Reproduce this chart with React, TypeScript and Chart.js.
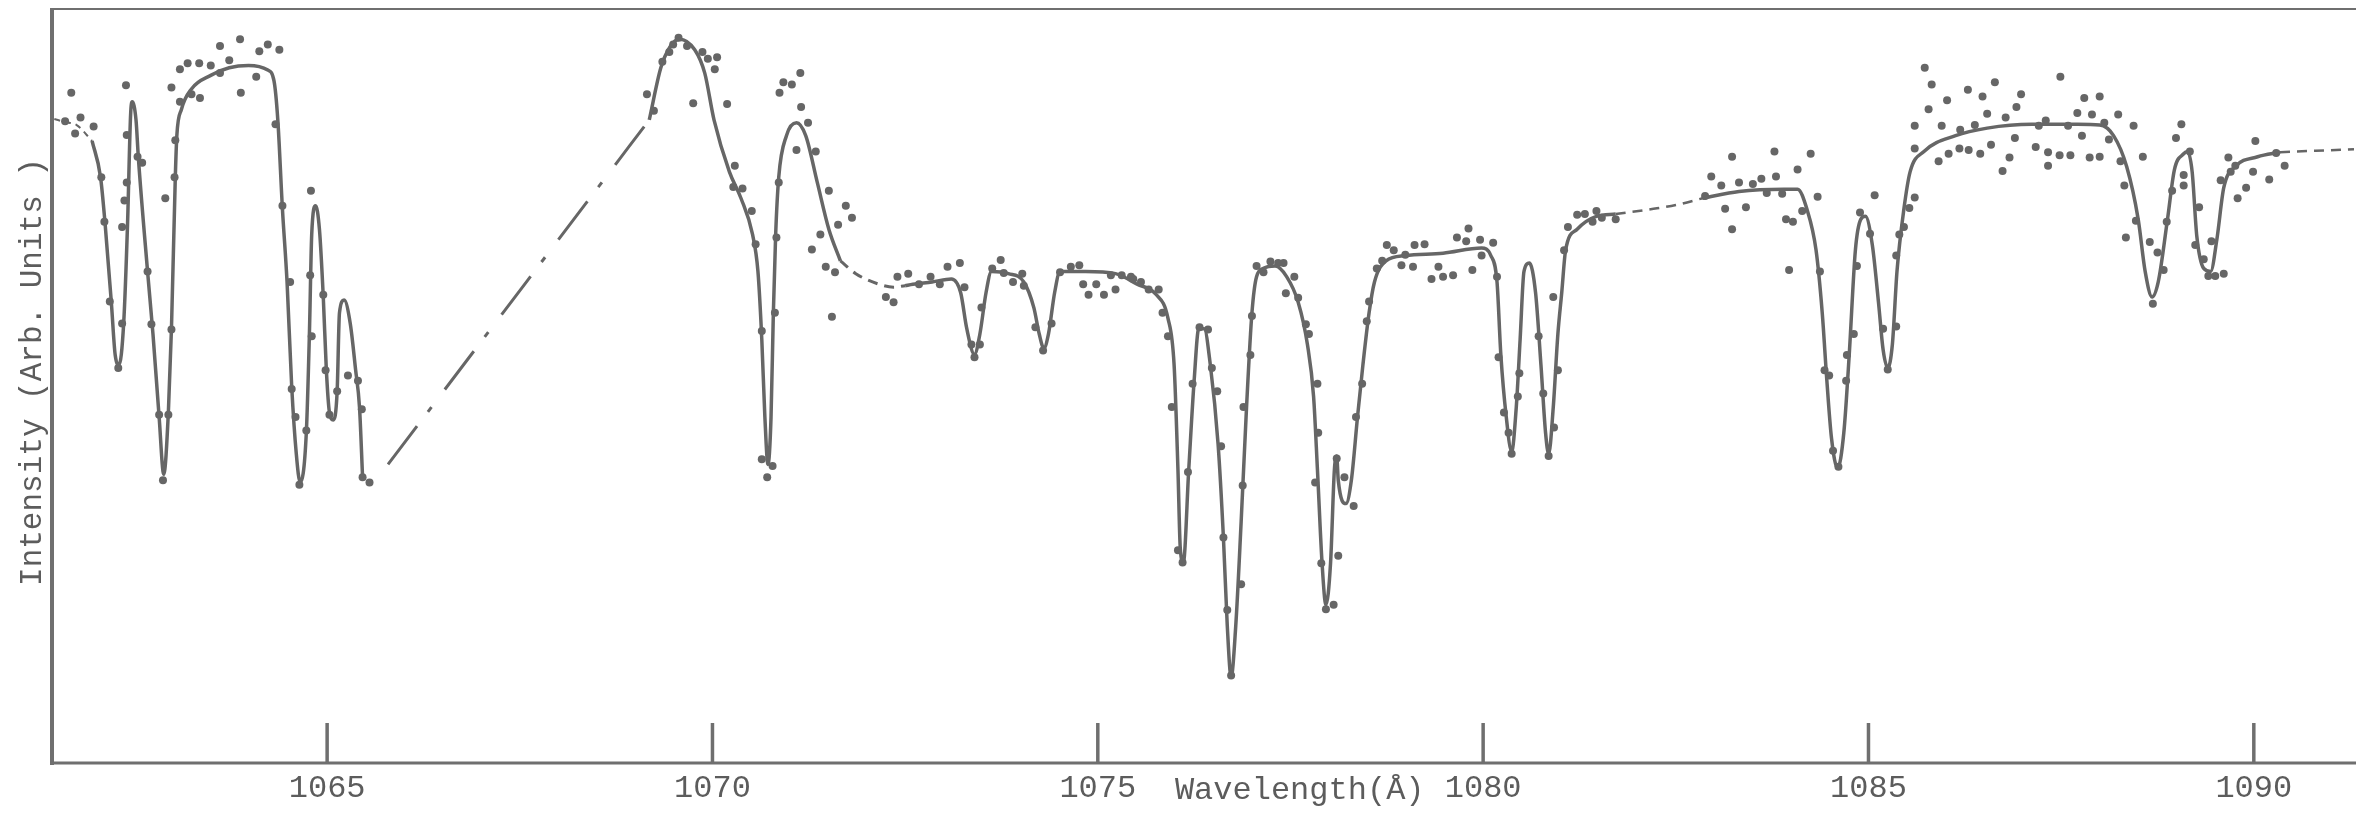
import React, { useEffect, useRef } from 'react';
import { Chart, registerables } from 'chart.js';

Chart.register(...registerables);

// Axis
const X_MIN = 1061.43;
const X_MAX = 1091.3;
const tickWavelengths = [1065, 1070, 1075, 1080, 1085, 1090];
const xTitle = 'Wavelength(Å)';
const yTitle = 'Intensity (Arb. Units )';

// Fitted curve pieces: [wavelength Å, intensity]
const leadDashed: number[][] = [[1061.46, 85.4], [1061.6, 85.0], [1061.75, 84.6], [1061.95, 82.5]];
const fitA: number[][] = [
  [1061.95, 82.5], [1062.06, 77.7], [1062.12, 71.4], [1062.2, 61.1], [1062.25, 54.1], [1062.3, 52.8],
  [1062.36, 58.3], [1062.41, 71.4], [1062.45, 86.0], [1062.47, 87.7], [1062.52, 85.3], [1062.55, 80.4],
  [1062.67, 65.2], [1062.74, 56.9], [1062.82, 45.9], [1062.88, 38.3], [1062.94, 46.5], [1062.98, 57.6],
  [1063.03, 77.7], [1063.05, 83.2], [1063.11, 86.7], [1063.24, 89.4], [1063.49, 91.2], [1063.73, 92.2],
  [1063.98, 92.5], [1064.23, 91.9], [1064.31, 90.5], [1064.36, 85.3], [1064.42, 73.5], [1064.48, 63.8],
  [1064.54, 50.0], [1064.6, 41.0], [1064.65, 37.2], [1064.73, 43.8], [1064.77, 56.9], [1064.8, 70.1],
  [1064.85, 73.9], [1064.9, 70.8], [1064.95, 61.8], [1064.99, 52.1], [1065.03, 46.5], [1065.08, 45.5],
  [1065.13, 49.3], [1065.16, 59.7], [1065.22, 61.4], [1065.3, 58.3], [1065.37, 52.1], [1065.42, 47.2],
  [1065.46, 37.9],
];
const dashDotLink: number[][] = [[1065.79, 39.6], [1069.18, 85.3]];
const fitB: number[][] = [
  [1069.18, 85.3], [1069.33, 92.2], [1069.45, 95.0], [1069.57, 96.0], [1069.77, 94.6], [1069.9, 91.5],
  [1070.02, 85.3], [1070.22, 78.4], [1070.37, 74.9], [1070.52, 70.1], [1070.59, 65.2], [1070.64, 56.2],
  [1070.68, 45.9], [1070.72, 39.6], [1070.76, 45.9], [1070.79, 59.7], [1070.82, 70.1], [1070.86, 77.7],
  [1070.96, 83.2], [1071.09, 84.9], [1071.21, 83.2], [1071.36, 77.0], [1071.51, 70.8], [1071.66, 66.6],
];
const dashB: number[][] = [[1071.66, 66.6], [1071.86, 64.9], [1072.16, 63.5], [1072.35, 63.1], [1072.5, 63.3]];
const fitC: number[][] = [
  [1072.5, 63.3], [1072.6, 63.5], [1072.85, 63.8], [1073.1, 64.2], [1073.22, 62.4], [1073.3, 57.6],
  [1073.4, 54.2], [1073.47, 56.9], [1073.55, 62.4], [1073.62, 65.2], [1073.84, 64.9], [1074.04, 63.8],
  [1074.17, 60.4], [1074.24, 56.9], [1074.3, 55.0], [1074.36, 56.9], [1074.44, 62.4], [1074.51, 65.2],
  [1074.84, 65.2], [1075.23, 64.9], [1075.51, 63.5], [1075.76, 62.1], [1075.91, 59.0], [1075.99, 52.8],
  [1076.04, 38.9], [1076.07, 28.5], [1076.11, 26.6], [1076.18, 38.9], [1076.25, 50.7], [1076.31, 57.6],
  [1076.38, 57.6], [1076.46, 52.8], [1076.56, 42.4], [1076.63, 29.9], [1076.68, 18.2], [1076.73, 11.4],
  [1076.79, 18.2], [1076.86, 32.0], [1076.93, 47.2], [1077.0, 59.7], [1077.06, 64.5], [1077.15, 65.6],
  [1077.3, 65.9], [1077.45, 64.5], [1077.6, 61.1], [1077.72, 55.5], [1077.8, 48.6], [1077.85, 38.9],
  [1077.91, 26.5], [1077.96, 21.0], [1078.02, 26.5], [1078.07, 38.9], [1078.1, 40.7], [1078.12, 37.5],
  [1078.22, 34.4], [1078.29, 37.5], [1078.37, 45.9], [1078.44, 52.8], [1078.52, 59.7], [1078.59, 63.8],
  [1078.74, 66.6], [1078.99, 67.3], [1079.48, 67.6], [1079.98, 68.3], [1080.1, 67.3], [1080.18, 63.8],
  [1080.23, 54.1], [1080.3, 45.9], [1080.37, 41.3], [1080.43, 47.2], [1080.48, 56.2], [1080.53, 65.2],
  [1080.6, 66.3], [1080.68, 62.4], [1080.75, 52.8], [1080.81, 43.8], [1080.85, 41.0], [1080.91, 47.2],
  [1080.97, 56.9], [1081.02, 62.4], [1081.07, 68.0], [1081.22, 70.8], [1081.47, 72.5], [1081.72, 72.8],
];
const dashC: number[][] = [[1081.72, 72.8], [1082.21, 73.5], [1082.5, 74.0], [1082.85, 74.9]];
const fitD: number[][] = [
  [1082.85, 74.9], [1083.32, 75.8], [1083.9, 76.1], [1084.08, 76.1], [1084.2, 73.5], [1084.32, 68.0],
  [1084.4, 59.7], [1084.46, 50.7], [1084.52, 43.1], [1084.6, 39.1], [1084.68, 43.8], [1084.75, 54.1],
  [1084.83, 68.0], [1084.9, 72.1], [1084.96, 72.5], [1085.05, 68.7], [1085.13, 61.1], [1085.19, 54.8],
  [1085.25, 52.4], [1085.31, 55.5], [1085.37, 65.2], [1085.46, 73.5], [1085.54, 78.4], [1085.72, 81.1],
  [1086.13, 83.2], [1086.54, 84.2], [1087.12, 84.7], [1087.71, 84.7], [1088.0, 84.6], [1088.18, 83.2],
  [1088.35, 79.1], [1088.5, 72.1], [1088.59, 65.2], [1088.68, 61.8], [1088.76, 63.8], [1088.88, 72.1],
  [1088.97, 78.7], [1089.09, 80.8], [1089.14, 81.1], [1089.2, 78.4], [1089.26, 69.9], [1089.35, 65.6],
  [1089.44, 65.2], [1089.52, 69.4], [1089.61, 76.3], [1089.76, 79.1], [1090.05, 80.4], [1090.34, 81.0],
];
const dashD: number[][] = [[1090.34, 81.0], [1090.8, 81.2], [1091.3, 81.4]];

// Measured points: [wavelength Å, intensity]
const dotsA: number[][] = [
  [1061.68, 88.9], [1061.73, 83.5], [1061.6, 85.1], [1061.8, 85.6], [1061.97, 84.4], [1062.07, 77.7],
  [1062.11, 71.8], [1062.18, 61.2], [1062.29, 52.4], [1062.34, 58.3], [1062.34, 71.1], [1062.37, 74.6],
  [1062.4, 77.0], [1062.4, 83.3], [1062.39, 89.9], [1062.54, 80.4], [1062.6, 79.6], [1062.67, 65.2],
  [1062.72, 58.2], [1062.82, 46.2], [1062.87, 37.5], [1062.94, 46.2], [1062.98, 57.5], [1062.9, 74.9],
  [1063.02, 77.7], [1063.03, 82.6], [1062.98, 89.6], [1063.09, 87.7], [1063.09, 92.0], [1063.19, 92.8],
  [1063.24, 88.7], [1063.34, 92.8], [1063.35, 88.2], [1063.49, 92.5], [1063.61, 95.1], [1063.61, 91.5],
  [1063.73, 93.2], [1063.87, 96.0], [1063.88, 88.9], [1064.08, 91.0], [1064.12, 94.4], [1064.23, 95.3],
  [1064.38, 94.6], [1064.33, 84.7], [1064.42, 73.9], [1064.52, 63.8], [1064.54, 49.6], [1064.59, 45.9],
  [1064.64, 36.9], [1064.73, 44.1], [1064.78, 64.7], [1064.8, 56.6], [1064.79, 75.9], [1064.95, 62.1],
  [1064.98, 52.1], [1065.03, 46.2], [1065.13, 49.3], [1065.27, 51.4], [1065.4, 50.7], [1065.45, 46.9],
  [1065.55, 37.2], [1065.46, 37.9],
];
const dotsB: number[][] = [
  [1069.15, 88.7], [1069.24, 86.5], [1069.35, 93.0], [1069.44, 94.3], [1069.49, 95.3], [1069.56, 96.2],
  [1069.67, 95.1], [1069.87, 94.3], [1069.94, 93.4], [1070.06, 93.6], [1070.03, 92.0], [1069.75, 87.5],
  [1070.19, 87.4], [1070.29, 79.2], [1070.27, 76.4], [1070.39, 76.2], [1070.51, 73.2], [1070.56, 68.8],
  [1070.64, 57.3], [1070.64, 40.3], [1070.71, 37.9], [1070.78, 39.4], [1070.81, 59.7], [1070.83, 69.7],
  [1070.86, 77.0], [1070.87, 88.9], [1070.92, 90.3], [1071.03, 90.0], [1071.14, 91.5], [1071.15, 87.0],
  [1071.09, 81.3], [1071.24, 84.9], [1071.34, 81.1], [1071.29, 68.1], [1071.4, 70.1], [1071.51, 75.9],
  [1071.63, 71.4], [1071.73, 73.9], [1071.81, 72.3], [1071.47, 65.8], [1071.59, 65.1], [1071.55, 59.2],
  [1072.25, 61.8], [1072.35, 61.1], [1072.4, 64.5], [1072.54, 64.9], [1072.68, 63.5], [1072.83, 64.5],
  [1072.95, 63.5], [1073.05, 65.8], [1073.21, 66.3], [1073.27, 63.1], [1073.36, 55.5], [1073.4, 53.8],
  [1073.47, 55.5], [1073.49, 60.4], [1073.63, 65.6], [1073.74, 66.7], [1073.78, 65.0], [1073.9, 63.8],
  [1074.02, 64.9], [1074.04, 63.3], [1074.19, 57.8], [1074.29, 54.7], [1074.4, 58.3], [1074.51, 65.1],
  [1074.65, 65.8], [1074.76, 66.0], [1074.81, 63.5], [1074.88, 62.1], [1074.98, 63.5], [1075.08, 62.1],
  [1075.17, 64.7], [1075.23, 62.8], [1075.31, 64.7], [1075.43, 64.5],
];
const dotsC: number[][] = [
  [1075.46, 64.2], [1075.56, 63.8], [1075.66, 62.8], [1075.79, 62.8], [1075.84, 59.7], [1075.91, 56.6],
  [1075.96, 47.2], [1076.04, 28.2], [1076.1, 26.6], [1076.17, 38.6], [1076.23, 50.3], [1076.32, 57.8],
  [1076.43, 57.5], [1076.48, 52.4], [1076.55, 49.3], [1076.6, 42.0], [1076.63, 29.9], [1076.68, 20.3],
  [1076.73, 11.6], [1076.86, 23.7], [1076.88, 36.8], [1076.89, 47.2], [1076.98, 54.1], [1077.0, 59.3],
  [1077.06, 65.9], [1077.15, 65.1], [1077.24, 66.5], [1077.34, 66.3], [1077.41, 66.3], [1077.44, 62.3],
  [1077.55, 64.5], [1077.6, 61.7], [1077.7, 58.2], [1077.74, 56.9], [1077.85, 50.3], [1077.86, 43.8],
  [1077.82, 37.2], [1077.9, 26.5], [1077.96, 20.4], [1078.06, 21.0], [1078.12, 27.5], [1078.1, 40.4],
  [1078.2, 37.9], [1078.32, 34.1], [1078.35, 45.9], [1078.43, 50.3], [1078.49, 58.6], [1078.52, 61.2],
  [1078.62, 65.6], [1078.69, 66.6], [1078.75, 68.7], [1078.84, 68.0], [1078.94, 66.0], [1078.99, 67.4],
  [1079.09, 65.8], [1079.11, 68.7], [1079.24, 68.8], [1079.33, 64.2], [1079.42, 65.8], [1079.48, 64.5],
  [1079.61, 64.7], [1079.66, 69.7], [1079.81, 70.9], [1079.78, 69.2], [1079.86, 65.4], [1079.96, 69.4],
  [1079.98, 67.3], [1080.13, 69.0], [1080.18, 64.5], [1080.2, 53.8], [1080.27, 46.5], [1080.33, 43.8],
  [1080.37, 41.0], [1080.45, 48.6], [1080.47, 51.7], [1080.72, 56.6], [1080.78, 49.0], [1080.85, 40.7],
  [1080.92, 44.5], [1080.91, 61.8], [1080.97, 52.1], [1081.05, 68.0], [1081.1, 71.1], [1081.22, 72.7],
  [1081.32, 72.8], [1081.42, 71.8], [1081.47, 73.2], [1081.54, 72.3], [1081.72, 72.1],
];
const dotsD: number[][] = [
  [1082.88, 75.2], [1082.96, 77.8], [1083.09, 76.6], [1083.14, 73.5], [1083.23, 80.4], [1083.23, 70.8],
  [1083.32, 77.0], [1083.41, 73.7], [1083.5, 76.8], [1083.61, 77.5], [1083.68, 75.6], [1083.78, 81.1],
  [1083.8, 77.8], [1083.88, 75.5], [1083.93, 72.1], [1084.02, 71.8], [1084.08, 78.7], [1084.14, 73.2],
  [1084.25, 80.8], [1084.34, 75.1], [1083.97, 65.4], [1084.37, 65.2], [1084.43, 52.1], [1084.49, 51.4],
  [1084.54, 41.4], [1084.61, 39.3], [1084.72, 54.1], [1084.71, 50.7], [1084.81, 56.9], [1084.85, 65.9],
  [1084.89, 73.0], [1085.02, 70.2], [1085.08, 75.3], [1085.19, 57.6], [1085.25, 52.2], [1085.36, 57.9],
  [1085.36, 67.3], [1085.4, 70.1], [1085.46, 71.1], [1085.53, 73.6], [1085.6, 75.0], [1085.6, 81.5],
  [1085.6, 84.5], [1085.73, 92.2], [1085.78, 86.7], [1085.82, 90.0], [1085.91, 79.8], [1085.95, 84.5],
  [1086.02, 87.9], [1086.04, 80.8], [1086.18, 81.5], [1086.19, 84.0], [1086.29, 89.3], [1086.3, 81.3],
  [1086.38, 84.6], [1086.45, 80.8], [1086.48, 88.4], [1086.54, 86.1], [1086.59, 82.0], [1086.64, 90.3],
  [1086.74, 78.5], [1086.78, 85.6], [1086.83, 80.3], [1086.9, 82.9], [1086.92, 87.0], [1086.98, 88.7],
  [1087.17, 81.7], [1087.21, 84.5], [1087.3, 85.2], [1087.33, 79.2], [1087.33, 81.0], [1087.48, 80.6],
  [1087.49, 91.0], [1087.59, 84.5], [1087.62, 80.6], [1087.71, 86.2], [1087.77, 83.2], [1087.8, 88.2],
  [1087.87, 80.3], [1087.9, 86.0], [1088.0, 88.4], [1088.0, 80.4], [1088.06, 84.9], [1088.12, 82.7],
  [1088.24, 86.0], [1088.27, 79.8], [1088.32, 76.6], [1088.34, 69.7], [1088.44, 84.5], [1088.47, 71.9],
  [1088.56, 80.4], [1088.65, 69.1], [1088.69, 60.9], [1088.75, 67.7], [1088.83, 65.4], [1088.87, 71.8],
  [1088.94, 75.9], [1088.99, 82.9], [1089.06, 84.7], [1089.09, 78.0], [1089.09, 76.6], [1089.17, 81.1],
  [1089.24, 68.7], [1089.29, 73.7], [1089.35, 66.8], [1089.41, 64.6], [1089.45, 69.2], [1089.5, 64.6],
  [1089.57, 77.3], [1089.61, 64.9], [1089.67, 80.3], [1089.7, 78.4], [1089.76, 79.2], [1089.79, 74.9],
  [1089.9, 76.3], [1089.99, 78.4], [1090.02, 82.5], [1090.2, 77.4], [1090.29, 80.9], [1090.4, 79.2],
];

const INK = '#666666';
const TEXT = '#5c5c5c';
const FONT = '"Liberation Mono", "DejaVu Sans Mono", monospace';

const toXY = (arr: number[][]) => arr.map(([x, y]) => ({ x, y }));

const curve = (data: number[][], width: number, dash: number[]) => ({
  type: 'scatter' as const,
  data: toXY(data),
  showLine: true,
  borderColor: INK,
  backgroundColor: INK,
  borderWidth: width,
  borderDash: dash,
  pointRadius: 0,
  cubicInterpolationMode: 'monotone' as const,
  borderCapStyle: 'butt' as const,
});

const dots = (data: number[][]) => ({
  type: 'scatter' as const,
  data: toXY(data),
  showLine: false,
  pointRadius: 4,
  pointBorderWidth: 0,
  backgroundColor: INK,
  borderColor: INK,
});

const framePlugin = {
  id: 'frameAndText',
  beforeDatasetsDraw(chart: any) {
    const { ctx, chartArea } = chart;
    const { left, top, right, bottom } = chartArea;
    const xs = chart.scales.x;
    ctx.save();
    ctx.strokeStyle = '#6f6f6f';
    ctx.lineWidth = 2;
    ctx.beginPath();
    ctx.moveTo(left, top);
    ctx.lineTo(right + 2, top);
    ctx.stroke();
    ctx.lineWidth = 4;
    ctx.beginPath();
    ctx.moveTo(left, top - 1);
    ctx.lineTo(left, bottom + 2);
    ctx.stroke();
    ctx.lineWidth = 3;
    ctx.beginPath();
    ctx.moveTo(left - 2, bottom);
    ctx.lineTo(right + 2, bottom);
    ctx.stroke();
    ctx.lineWidth = 3.5;
    for (const v of tickWavelengths) {
      const px = xs.getPixelForValue(v);
      ctx.beginPath();
      ctx.moveTo(px, bottom);
      ctx.lineTo(px, bottom - 40);
      ctx.stroke();
    }
    ctx.restore();
  },
  afterDraw(chart: any) {
    const { ctx, chartArea } = chart;
    const xs = chart.scales.x;
    ctx.save();
    ctx.fillStyle = TEXT;
    ctx.font = `32px ${FONT}`;
    ctx.textAlign = 'center';
    ctx.textBaseline = 'middle';
    ctx.fillText(xTitle, xs.getPixelForValue(1077.62), chartArea.bottom + 28);
    ctx.translate(33, 372);
    ctx.rotate(-Math.PI / 2);
    ctx.font = `31px ${FONT}`;
    ctx.fillText(yTitle, 0, 0);
    ctx.restore();
  },
};

export default function App() {
  const ref = useRef<HTMLCanvasElement>(null);
  useEffect(() => {
    if (!ref.current) return;
    const chart = new Chart(ref.current, {
      type: 'scatter',
      data: {
        datasets: [
          curve(leadDashed, 2, [6, 5]),
          curve(fitA, 3.5, []),
          curve(dashDotLink, 3, [48, 18, 6, 22]),
          curve(fitB, 3.5, []),
          curve(dashB, 3, [10, 7]),
          curve(fitC, 3.5, []),
          curve(dashC, 2.5, [10, 7]),
          curve(fitD, 3.5, []),
          curve(dashD, 2.5, [10, 7]),
          dots(dotsA),
          dots(dotsB),
          dots(dotsC),
          dots(dotsD),
        ] as any,
      },
      options: {
        responsive: false,
        devicePixelRatio: 1,
        animation: false,
        layout: { padding: { left: 52, top: 9, right: 2, bottom: 0 } },
        plugins: { legend: { display: false }, tooltip: { enabled: false }, title: { display: false } },
        scales: {
          x: {
            type: 'linear',
            min: X_MIN,
            max: X_MAX,
            afterBuildTicks: (s: any) => {
              s.ticks = tickWavelengths.map((v) => ({ value: v }));
            },
            afterFit: (s: any) => {
              s.height = 55;
            },
            grid: { display: false, drawTicks: false },
            border: { display: false },
            ticks: {
              font: { family: FONT, size: 32 },
              color: TEXT,
              padding: 6,
              maxRotation: 0,
              autoSkip: false,
              callback: (v: any) => String(v),
            },
          },
          y: { type: 'linear', min: 0, max: 100, display: false },
        },
      },
      plugins: [framePlugin],
    });
    return () => chart.destroy();
  }, []);
  return (
    <div style={{ position: 'absolute', left: 0, top: 0, width: 2358, height: 818, background: '#fff' }}>
      <canvas ref={ref} width={2358} height={818} style={{ display: 'block', width: 2358, height: 818 }} />
    </div>
  );
}
